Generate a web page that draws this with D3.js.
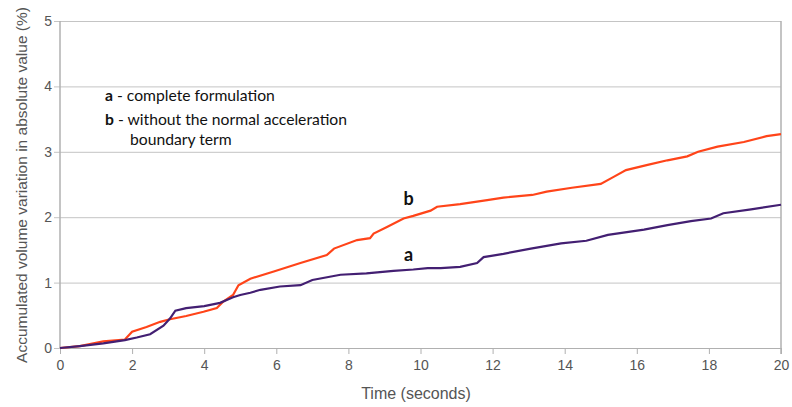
<!DOCTYPE html>
<html>
<head>
<meta charset="utf-8">
<script src="https://cdn.jsdelivr.net/npm/d3@7"></script>
<style>
  body { margin: 0; background: #fff; }
  svg { display: block; }
</style>
</head>
<body>
<svg width="792" height="407"></svg>
<script>
// curve a - complete formulation
var timeA = [0, 0.55, 1.2, 1.8, 2.13, 2.5, 2.87, 3.05, 3.2, 3.5, 4.0, 4.44, 4.8, 5.0, 5.28,
    5.56, 6.1, 6.67, 7.0, 7.78, 8.5, 9.25, 9.8, 10.2, 10.56, 11.1, 11.57, 11.75, 12.3,
    13.06, 13.9, 14.6, 15.2, 16.2, 16.85, 17.5, 18.06, 18.4, 19.17, 20];
var valueA = [0, 0.03, 0.07, 0.12, 0.16, 0.21, 0.34, 0.45, 0.57, 0.61, 0.64, 0.69, 0.775, 0.81, 0.845,
    0.89, 0.94, 0.96, 1.04, 1.12, 1.14, 1.18, 1.20, 1.22, 1.22, 1.24, 1.30, 1.39, 1.44,
    1.52, 1.60, 1.64, 1.73, 1.81, 1.88, 1.94, 1.98, 2.06, 2.12, 2.19];

// curve b - without the normal acceleration boundary term
var timeB = [0, 0.55, 1.2, 1.8, 2.0, 2.4, 2.78, 3.05, 3.5, 3.98, 4.35, 4.53, 4.8, 4.95, 5.28,
    5.93, 6.67, 7.4, 7.6, 8.24, 8.6, 8.7, 9.07, 9.53, 9.8, 10.28, 10.46, 11.1, 11.85, 12.3,
    13.1, 13.5, 14.2, 15.0, 15.37, 15.7, 16.3, 16.85, 17.4, 17.7, 18.24, 18.97, 19.6, 20];
var valueB = [0, 0.03, 0.10, 0.13, 0.25, 0.32, 0.40, 0.44, 0.49, 0.555, 0.61, 0.71, 0.81, 0.96, 1.06,
    1.17, 1.30, 1.42, 1.52, 1.65, 1.68, 1.75, 1.85, 1.98, 2.02, 2.10, 2.16, 2.20, 2.26, 2.30,
    2.34, 2.39, 2.45, 2.51, 2.62, 2.72, 2.80, 2.87, 2.93, 3.00, 3.08, 3.15, 3.24, 3.27];

var xTicks = [0, 2, 4, 6, 8, 10, 12, 14, 16, 18, 20];
var yTicks = [0, 1, 2, 3, 4, 5];

var svg = d3.select("svg"),
    margin = { top: 21, right: 11, bottom: 59, left: 60 },
    width = +svg.attr("width") - margin.left - margin.right,
    height = +svg.attr("height") - margin.top - margin.bottom,
    g = svg.append("g").attr("transform", "translate(" + margin.left + "," + margin.top + ")");

var x = d3.scaleLinear().domain([0, 20]).range([0, width]);
var y = d3.scaleLinear().domain([0, 5]).range([height, 0]);

var gridColor = "#c4c4c4", axisColor = "#b0b0b0", textColor = "#555";
var sans = "'Liberation Sans', Arial, sans-serif";

// horizontal grid, with the small outer tick on the left
g.append("g")
    .call(d3.axisLeft(y).tickValues(yTicks).tickSize(-width).tickPadding(8).tickFormat(d3.format("d")))
    .call(function (a) {
        a.select(".domain").remove();
        a.selectAll("line").attr("stroke", gridColor).attr("x1", -6);
        a.selectAll("text").attr("fill", textColor)
            .style("font-family", sans).style("font-size", "14px");
    });

// x axis
g.append("g")
    .attr("transform", "translate(0," + height + ")")
    .call(d3.axisBottom(x).tickValues(xTicks).tickSize(6).tickPadding(6).tickFormat(d3.format("d")))
    .call(function (a) {
        a.select(".domain").attr("stroke", axisColor);
        a.selectAll("line").attr("stroke", axisColor);
        a.selectAll("text").attr("fill", textColor)
            .style("font-family", sans).style("font-size", "14px");
    });

// left and right frame lines
g.append("line").attr("x1", 0).attr("x2", 0).attr("y1", 0).attr("y2", height)
    .attr("stroke", axisColor).attr("stroke-width", 1.5);
g.append("line").attr("x1", width).attr("x2", width).attr("y1", 0).attr("y2", height + 6)
    .attr("stroke", axisColor).attr("stroke-width", 1.5);

var line = d3.line()
    .x(function (d) { return x(d[0]); })
    .y(function (d) { return y(d[1]); });

g.append("path")
    .datum(d3.zip(timeB, valueB))
    .attr("d", line)
    .attr("fill", "none")
    .attr("stroke", "#ff4419")
    .attr("stroke-width", 2.2);

g.append("path")
    .datum(d3.zip(timeA, valueA))
    .attr("d", line)
    .attr("fill", "none")
    .attr("stroke", "#431f72")
    .attr("stroke-width", 2.2);

// axis titles
svg.append("text")
    .attr("x", 416)
    .attr("y", 399)
    .attr("text-anchor", "middle")
    .attr("fill", textColor)
    .style("font-family", sans)
    .style("font-size", "16px")
    .text("Time (seconds)");

svg.append("text")
    .attr("transform", "translate(27,185) rotate(-90)")
    .attr("text-anchor", "middle")
    .attr("fill", textColor)
    .style("font-family", sans)
    .style("font-size", "15.5px")
    .text("Accumulated volume variation in absolute value (%)");

// legend notes
var note = svg.append("g")
    .style("font-family", "Lato, 'Open Sans', sans-serif")
    .style("font-size", "15.7px")
    .attr("fill", "#111");

var t1 = note.append("text").attr("x", 105).attr("y", 101);
t1.append("tspan").style("font-weight", "bold").text("a");
t1.append("tspan").text(" - complete formulation");

var t2 = note.append("text").attr("x", 105).attr("y", 125);
t2.append("tspan").style("font-weight", "bold").text("b");
t2.append("tspan").text(" - without the normal acceleration");

note.append("text").attr("x", 130).attr("y", 145).text("boundary term");

// curve labels
svg.append("text").attr("x", x(9.67) + margin.left).attr("y", 205)
    .attr("text-anchor", "middle")
    .style("font-family", "Lato, sans-serif").style("font-size", "18px").style("font-weight", "bold")
    .attr("fill", "#111").text("b");
svg.append("text").attr("x", x(9.67) + margin.left).attr("y", 261)
    .attr("text-anchor", "middle")
    .style("font-family", "Lato, sans-serif").style("font-size", "18px").style("font-weight", "bold")
    .attr("fill", "#111").text("a");
</script>
</body>
</html>
